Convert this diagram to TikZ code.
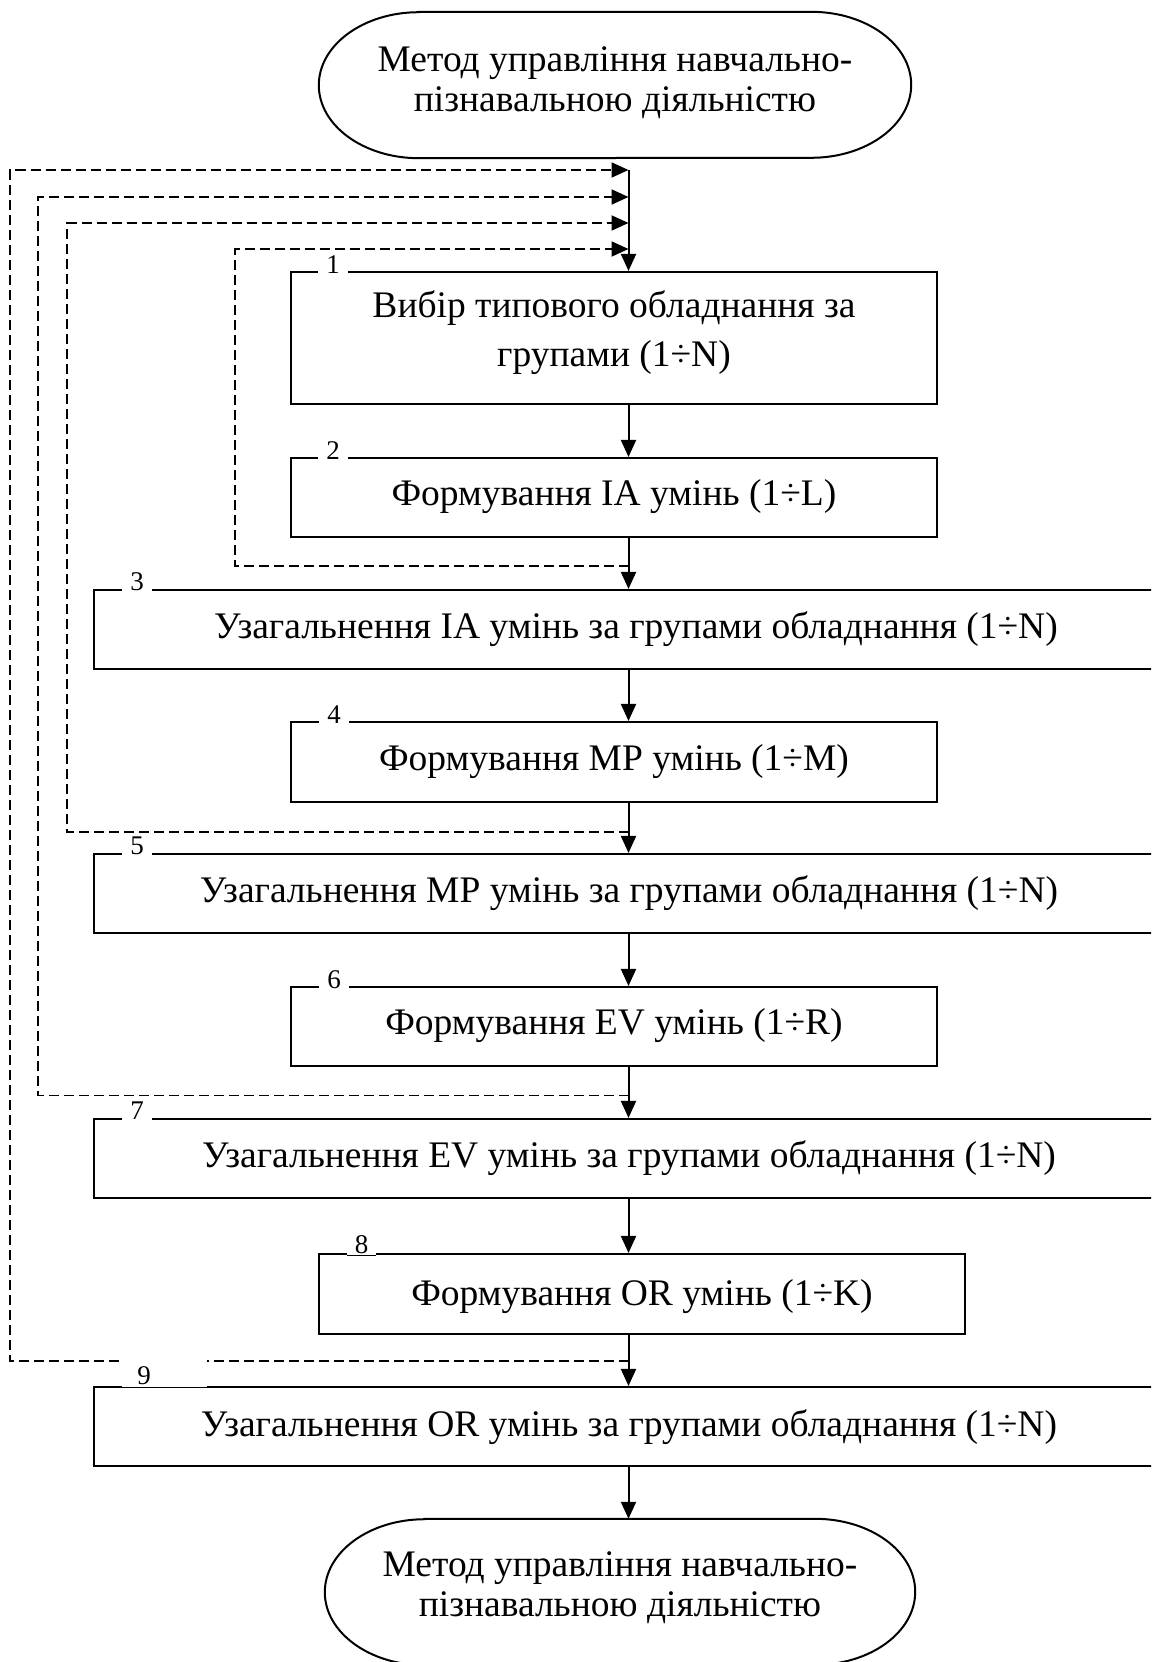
\documentclass[tikz,border=0pt]{standalone}
\usepackage{fontspec}
\setmainfont{Liberation Serif}
\usetikzlibrary{arrows.meta}
\newcommand\mainsz{\fontsize{37.5}{40}\selectfont}
\newcommand\widesz{\fontsize{37.5}{49}\selectfont}
\newcommand\numsz{\fontsize{27}{29}\selectfont}
\begin{document}
\begin{tikzpicture}[x=1pt,y=-1pt,
  boxshape/.style={draw, line width=2.1pt, inner sep=0pt},
  txt/.style={font=\mainsz, align=center, inner sep=0pt},
  numlbl/.style={fill=white, font=\numsz, inner sep=1pt, minimum width=30pt, minimum height=19pt},
  flow/.style={line width=2pt, -{Triangle[length=17pt,width=15pt]}},
  fb/.style={line width=1.9pt, dash pattern=on 10pt off 5pt, -{Triangle[length=17pt,width=15pt]}}]
\useasboundingbox (0,0) rectangle (1151,1662);
\clip (0,0) rectangle (1151,1662);

% terminators
\node[minimum width=592pt, minimum height=146pt, inner sep=0pt] (start) at (615,85) {};
\draw[line width=2pt] ([xshift=100pt]start.north west) -- ([xshift=-100pt]start.north east)
  arc[start angle=90,end angle=-90,x radius=100pt,y radius=73pt]
  -- ([xshift=100pt]start.south west)
  arc[start angle=270,end angle=90,x radius=100pt,y radius=73pt] -- cycle;
\node[txt] (starttxt) at (615,83) {Метод управління навчально-\\пізнавальною діяльністю};

\node[minimum width=590pt, minimum height=146pt, inner sep=0pt] (finish) at (620,1592) {};
\draw[line width=2pt] ([xshift=100pt]finish.north west) -- ([xshift=-100pt]finish.north east)
  arc[start angle=90,end angle=-90,x radius=100pt,y radius=73pt]
  -- ([xshift=100pt]finish.south west)
  arc[start angle=270,end angle=90,x radius=100pt,y radius=73pt] -- cycle;
\node[txt] (finishtxt) at (620,1588) {Метод управління навчально-\\пізнавальною діяльністю};

% process boxes
\node[boxshape, minimum width=646pt, minimum height=132pt] (b1) at (614,338) {};
\node[txt, font=\widesz] (t1) at (614,332.5) {Вибір типового обладнання за\\групами (1÷N)};
\node[boxshape, minimum width=646pt, minimum height=79pt] (b2) at (614,497.5) {};
\node[txt] (t2) at (614,497) {Формування IA умінь (1÷L)};
\node[boxshape, minimum width=1076pt, minimum height=79pt] (b3) at (632,629.5) {};
\node[txt] (t3) at (636,629) {Узагальнення IA умінь за групами обладнання (1÷N)};
\node[boxshape, minimum width=646pt, minimum height=80pt] (b4) at (614,762) {};
\node[txt] (t4) at (614,762) {Формування MP умінь (1÷M)};
\node[boxshape, minimum width=1076pt, minimum height=79pt] (b5) at (632,893.5) {};
\node[txt] (t5) at (629,893) {Узагальнення MP умінь за групами обладнання (1÷N)};
\node[boxshape, minimum width=646pt, minimum height=79pt] (b6) at (614,1026.5) {};
\node[txt] (t6) at (614,1026) {Формування EV умінь (1÷R)};
\node[boxshape, minimum width=1076pt, minimum height=79pt] (b7) at (632,1158.5) {};
\node[txt] (t7) at (629,1158) {Узагальнення EV умінь за групами обладнання (1÷N)};
\node[boxshape, minimum width=646pt, minimum height=80pt] (b8) at (642,1294) {};
\node[txt] (t8) at (642,1297) {Формування OR умінь (1÷K)};
\node[boxshape, minimum width=1076pt, minimum height=79pt] (b9) at (632,1426.5) {};
\node[txt] (t9) at (629,1427) {Узагальнення OR умінь за групами обладнання (1÷N)};

% step numbers sitting on the top edges
\node[numlbl] (n1) at (333,265) {1};
\node[numlbl] (n2) at (333,451) {2};
\node[numlbl] (n3) at (137,582) {3};
\node[numlbl] (n4) at (334,715) {4};
\node[numlbl] (n5) at (137,846) {5};
\node[numlbl] (n6) at (334,980) {6};
\node[numlbl] (n7) at (137,1111) {7};

% main flow
\coordinate (spine) at (628.5,170);
\draw[flow] (spine) -- (b1.north -| spine);
\draw[flow] (b1.south -| spine) -- (b2.north -| spine);
\draw[flow] (b2.south -| spine) -- (b3.north -| spine);
\draw[flow] (b3.south -| spine) -- (b4.north -| spine);
\draw[flow] (b4.south -| spine) -- (b5.north -| spine);
\draw[flow] (b5.south -| spine) -- (b6.north -| spine);
\draw[flow] (b6.south -| spine) -- (b7.north -| spine);
\draw[flow] (b7.south -| spine) -- (b8.north -| spine);
\draw[flow] (b8.south -| spine) -- (b9.north -| spine);
\draw[flow] (b9.south -| spine) -- (finish.north -| spine);

% feedback loops
\coordinate (ra) at (628.5,566);
\coordinate (ta) at (628.5,249);
\coordinate (rb) at (628.5,832);
\coordinate (tb) at (628.5,223);
\coordinate (rc) at (628.5,1095.5);
\coordinate (tc) at (628.5,197);
\coordinate (rd) at (628.5,1361);
\coordinate (td) at (628.5,170);
\draw[fb] (ra) -- ++(-393.5,0) |- (ta);
\draw[fb] (rb) -- ++(-561.5,0) |- (tb);
\draw[fb] (rc) -- ++(-590.5,0) |- (tc);
\draw[fb] (rd) -- ++(-618.5,0) |- (td);

% numbers 8 and 9 with their own underline
\node[numlbl, minimum width=29pt, minimum height=21pt, anchor=south] (n8) at (361.5,1255.2) {8};
\draw[line width=1pt] (n8.south west) -- (n8.south east);
\fill[white] (122,1349) rectangle (207,1388.8);
\draw[line width=1pt] (122,1387.3) -- (207,1387.3);
\node[font=\numsz, inner sep=0pt] (n9) at (144,1376) {9};
\end{tikzpicture}
\end{document}
